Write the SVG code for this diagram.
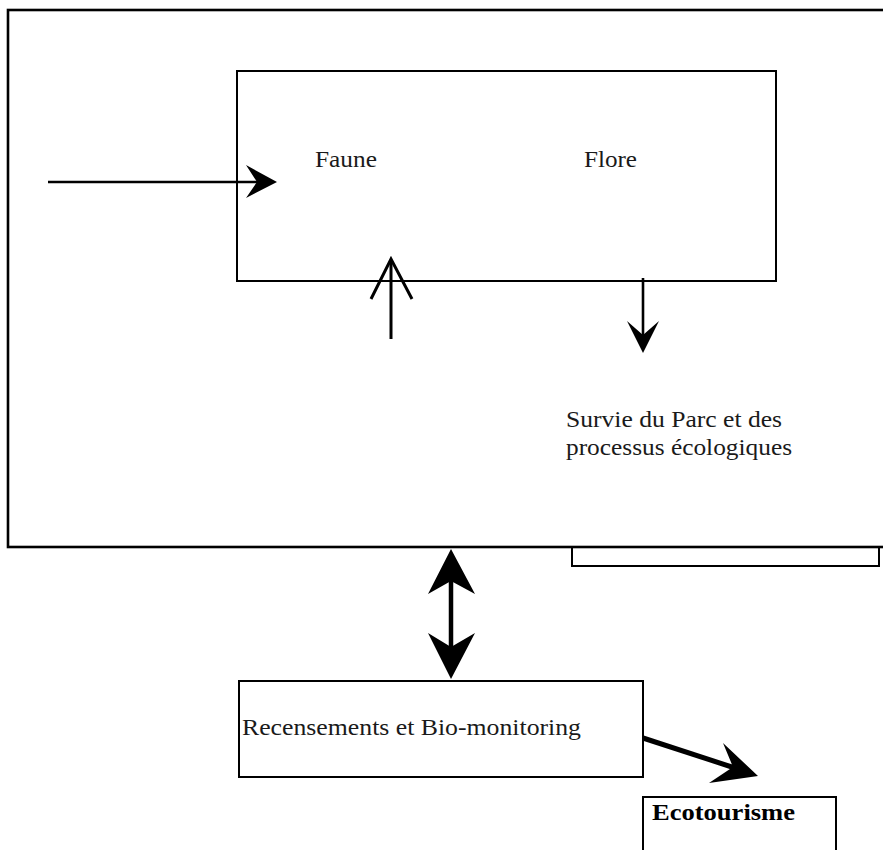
<svg xmlns="http://www.w3.org/2000/svg" width="883" height="850" viewBox="0 0 883 850">
<style>
.box{fill:none;stroke:#000;stroke-width:2}
.frame{fill:none;stroke:#000;stroke-width:2.6}
.t{font-family:"Liberation Serif","Times New Roman",serif;font-size:24px;fill:#1a1a1a}
.b{font-weight:bold;fill:#000}
.ln{fill:none;stroke:#000}
.head{fill:#000;stroke:none}
</style>
<rect width="883" height="850" fill="#fff"/>
<g id="frame">
<rect class="frame" x="8" y="10" width="900" height="537"/>
<rect class="box" x="572" y="547" width="307" height="19"/>
</g>
<g id="ecosystem">
<rect class="box" x="237" y="71" width="539" height="210"/>
<text class="t" x="315" y="167" textLength="62" lengthAdjust="spacingAndGlyphs">Faune</text>
<text class="t" x="584" y="167" textLength="53" lengthAdjust="spacingAndGlyphs">Flore</text>
</g>
<g id="survie">
<text class="t" x="566" y="427" textLength="216" lengthAdjust="spacingAndGlyphs">Survie du Parc et des</text>
<text class="t" x="566" y="455" textLength="226" lengthAdjust="spacingAndGlyphs">processus écologiques</text>
</g>
<g id="recensements">
<rect class="box" x="239" y="681" width="404" height="96"/>
<text class="t" x="242" y="735" textLength="339" lengthAdjust="spacingAndGlyphs">Recensements et Bio-monitoring</text>
</g>
<g id="ecotourisme">
<path class="box" d="M643,860 V797 H836 V860"/>
<text class="t b" x="652" y="820" textLength="143" lengthAdjust="spacingAndGlyphs">Ecotourisme</text>
</g>
<g id="connectors">
<line class="ln" x1="48" y1="182" x2="258" y2="182" stroke-width="2.6"/>
<path class="head" d="M277,182 L246,165 L257,182 L246,198 Z"/>
<line class="ln" x1="391" y1="339" x2="391" y2="260" stroke-width="3"/>
<path class="ln" d="M371,299 L391,259 L412,299" stroke-width="3"/>
<line class="ln" x1="643" y1="278" x2="643" y2="336" stroke-width="2.6"/>
<path class="head" d="M643,353 L627,321 L643,335 L659,321 Z"/>
<line class="ln" x1="451" y1="580" x2="451" y2="648" stroke-width="4.5"/>
<path class="head" d="M451,549 L428,594 L451,581 L475,594 Z"/>
<path class="head" d="M451,679 L428,633 L451,647 L475,633 Z"/>
<line class="ln" x1="643" y1="738" x2="735" y2="768" stroke-width="5"/>
<path class="head" d="M758,776 L723,743 L733,767 L709,783 Z"/>
</g>
</svg>
